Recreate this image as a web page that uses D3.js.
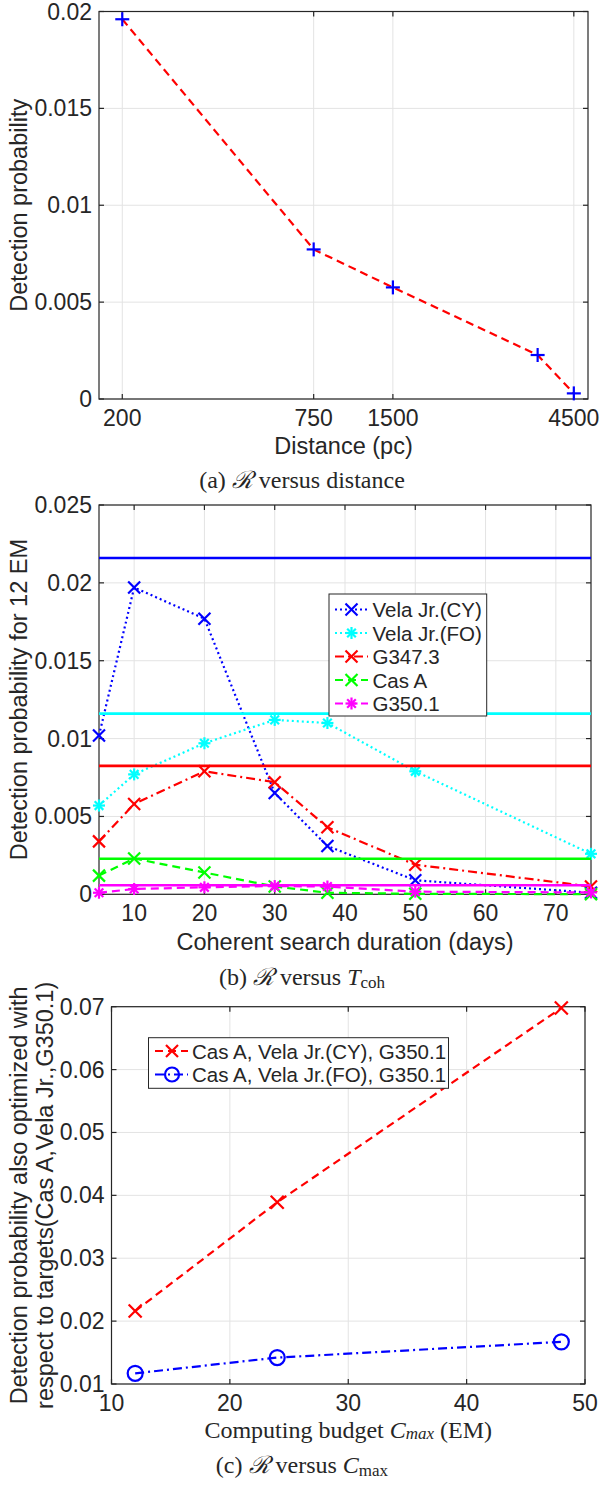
<!DOCTYPE html>
<html>
<head>
<meta charset="utf-8">
<script src="https://cdn.jsdelivr.net/npm/d3@7"></script>
<style>
  html, body { margin: 0; padding: 0; background: #fff; }
  svg { display: block; }
  .sans { font-family: "Liberation Sans", Arial, Helvetica, sans-serif; fill: #262626; }
  .serif { font-family: "Liberation Serif", "Times New Roman", serif; fill: #262626; }
</style>
</head>
<body>
<svg id="fig" width="600" height="1491"></svg>
<script>
// ---------------- DATA ----------------
// (a) R versus distance
const distanceTicks = [200, 750, 1500, 4500];
const distanceTickLabels = ["200", "750", "1500", "4500"];
const distance = [200, 750, 1500, 3900, 4500];
const probVsDistance = [0.0196, 0.00772, 0.00576, 0.00227, 0.00029];
const yTicksA = [0, 0.005, 0.01, 0.015, 0.02];
const yTickLabelsA = ["0", "0.005", "0.01", "0.015", "0.02"];

// (b) R versus T_coh
const tcoh = [5, 10, 20, 30, 37.5, 50, 75];
const velaCY = [0.0102, 0.0197, 0.0177, 0.0065, 0.0031, 0.0009, 0.0001];
const velaFO = [0.0057, 0.0077, 0.0097, 0.0112, 0.0110, 0.0079, 0.0026];
const g347 = [0.0034, 0.0058, 0.0079, 0.0072, 0.0043, 0.0019, 0.0005];
const casA = [0.0012, 0.0023, 0.0014, 0.0005, 0.0001, 0.00003, 0.00001];
const g350 = [0.0001, 0.00034, 0.00045, 0.00053, 0.0005, 0.00017, 0.00012];
const seriesNamesB = ["Vela Jr.(CY)", "Vela Jr.(FO)", "G347.3", "Cas A", "G350.1"];
const maxLevelsB = [0.0216, 0.0116, 0.00825, 0.00228, 0.00058];
const xTicksB = [10, 20, 30, 40, 50, 60, 70];
const xTickLabelsB = ["10", "20", "30", "40", "50", "60", "70"];
const yTicksB = [0, 0.005, 0.01, 0.015, 0.02, 0.025];
const yTickLabelsB = ["0", "0.005", "0.01", "0.015", "0.02", "0.025"];

// (c) R versus C_max
const cmax = [12, 24, 48];
const casVelaCY = [0.0216, 0.0389, 0.0698];
const casVelaFO = [0.0117, 0.0142, 0.0167];
const seriesNamesC = ["Cas A, Vela Jr.(CY), G350.1", "Cas A, Vela Jr.(FO), G350.1"];
const xTicksC = [10, 20, 30, 40, 50];
const xTickLabelsC = ["10", "20", "30", "40", "50"];
const yTicksC = [0.01, 0.02, 0.03, 0.04, 0.05, 0.06, 0.07];
const yTickLabelsC = ["0.01", "0.02", "0.03", "0.04", "0.05", "0.06", "0.07"];

// ---------------- HELPERS ----------------
const svg = d3.select("#fig");
svg.append("rect").attr("width", 600).attr("height", 1491).attr("fill", "#fff");

const AX = "#262626", GRID = "#e3e3e3";
const TICK_FS = 23, LABEL_FS = 23.5, LEG_FS = 20.5, CAP_FS = 24;

function drawAxes(g, x, y, box, xt, xtl, yt, ytl) {
  const [L, R, T, B] = box;
  g.append("g").selectAll("line").data(xt).join("line")
    .attr("x1", d => x(d)).attr("x2", d => x(d)).attr("y1", T).attr("y2", B)
    .attr("stroke", GRID).attr("stroke-width", 1);
  g.append("g").selectAll("line").data(yt).join("line")
    .attr("y1", d => y(d)).attr("y2", d => y(d)).attr("x1", L).attr("x2", R)
    .attr("stroke", GRID).attr("stroke-width", 1);
  g.append("rect").attr("x", L).attr("y", T).attr("width", R - L).attr("height", B - T)
    .attr("fill", "none").attr("stroke", AX).attr("stroke-width", 1.2);
  const tl = 5;
  xt.forEach(d => {
    g.append("line").attr("x1", x(d)).attr("x2", x(d)).attr("y1", B).attr("y2", B - tl).attr("stroke", AX).attr("stroke-width", 1.2);
    g.append("line").attr("x1", x(d)).attr("x2", x(d)).attr("y1", T).attr("y2", T + tl).attr("stroke", AX).attr("stroke-width", 1.2);
  });
  yt.forEach(d => {
    g.append("line").attr("y1", y(d)).attr("y2", y(d)).attr("x1", L).attr("x2", L + tl).attr("stroke", AX).attr("stroke-width", 1.2);
    g.append("line").attr("y1", y(d)).attr("y2", y(d)).attr("x1", R).attr("x2", R - tl).attr("stroke", AX).attr("stroke-width", 1.2);
  });
  g.append("g").selectAll("text").data(xt).join("text").attr("class", "sans")
    .attr("x", d => x(d)).attr("y", B + 19).attr("text-anchor", "middle")
    .attr("dominant-baseline", "central").attr("font-size", TICK_FS)
    .text((d, i) => xtl[i]);
  g.append("g").selectAll("text").data(yt).join("text").attr("class", "sans")
    .attr("x", L - 7).attr("y", d => y(d)).attr("text-anchor", "end")
    .attr("dominant-baseline", "central").attr("font-size", TICK_FS)
    .text((d, i) => ytl[i]);
}

function marker(g, type, cx, cy, color, s, sw) {
  const m = g.append("g").attr("transform", `translate(${cx},${cy})`)
    .attr("stroke", color).attr("stroke-width", sw || 2).attr("fill", "none");
  if (type === "plus" || type === "star") {
    m.append("line").attr("x1", -s).attr("x2", s).attr("y1", 0).attr("y2", 0);
    m.append("line").attr("x1", 0).attr("x2", 0).attr("y1", -s).attr("y2", s);
  }
  if (type === "x" || type === "star") {
    const k = type === "star" ? s * 0.72 : s;
    m.append("line").attr("x1", -k).attr("x2", k).attr("y1", -k).attr("y2", k);
    m.append("line").attr("x1", -k).attr("x2", k).attr("y1", k).attr("y2", -k);
  }
  if (type === "circle") {
    m.append("circle").attr("r", s);
  }
}

function yLabel(lines, cx, cy, spacing) {
  lines.forEach((t, i) => {
    svg.append("text").attr("class", "sans").attr("font-size", LABEL_FS)
      .attr("text-anchor", "middle").attr("dominant-baseline", "central")
      .attr("transform", `translate(${cx + i * spacing},${cy}) rotate(-90)`)
      .text(t);
  });
}

function caption(yPos, parts) {
  const cap = svg.append("text").attr("class", "serif").attr("font-size", CAP_FS)
    .attr("x", 302).attr("y", yPos).attr("text-anchor", "middle").attr("dominant-baseline", "central");
  parts.forEach(p => {
    const t = cap.append("tspan").text(p.t);
    if (p.it) t.attr("font-style", "italic");
    if (p.sub) t.attr("font-size", 17).attr("dy", 5);
  });
}

// ---------------- PANEL (a) ----------------
{
  const box = [99, 588, 11.5, 399];
  const [L, R, T, B] = box, W = R - L;
  const x = d3.scaleLinear().domain(distanceTicks)
    .range([L + 0.0476 * W, L + 0.439 * W, L + 0.601 * W, L + 0.971 * W]);
  const y = d3.scaleLinear().domain([0, 0.02]).range([B, T]);
  const g = svg.append("g");
  drawAxes(g, x, y, box, distanceTicks, distanceTickLabels, yTicksA, yTickLabelsA);
  const pts = distance.map((d, i) => [d, probVsDistance[i]]);
  g.append("path").datum(pts)
    .attr("d", d3.line().x(d => x(d[0])).y(d => y(d[1])))
    .attr("fill", "none").attr("stroke", "#ff0000").attr("stroke-width", 2.2)
    .attr("stroke-dasharray", "8,5");
  pts.forEach(p => marker(g, "plus", x(p[0]), y(p[1]), "#0000ff", 7, 2.2));
  svg.append("text").attr("class", "sans").attr("font-size", LABEL_FS)
    .attr("x", (L + R) / 2).attr("y", 446).attr("text-anchor", "middle")
    .attr("dominant-baseline", "central").text("Distance (pc)");
  yLabel(["Detection probability"], 19, (T + B) / 2, 0);
  caption(480, [{ t: "(a) " }, { t: "ℛ", it: true }, { t: " versus distance" }]);
}

// ---------------- PANEL (b) ----------------
{
  const box = [99, 591, 505, 894.3];
  const [L, R, T, B] = box;
  const x = d3.scaleLinear().domain([5, 75]).range([L, R]);
  const y = d3.scaleLinear().domain([0, 0.025]).range([B, T]);
  const g = svg.append("g");
  drawAxes(g, x, y, box, xTicksB, xTickLabelsB, yTicksB, yTickLabelsB);
  const series = [
    { name: seriesNamesB[0], vals: velaCY, color: "#0000ff", dash: "2,3", mk: "x" },
    { name: seriesNamesB[1], vals: velaFO, color: "#00ffff", dash: "2,3", mk: "star" },
    { name: seriesNamesB[2], vals: g347, color: "#ff0000", dash: "9,4,2,4", mk: "x" },
    { name: seriesNamesB[3], vals: casA, color: "#00ff00", dash: "8,5", mk: "x" },
    { name: seriesNamesB[4], vals: g350, color: "#ff00ff", dash: "8,5", mk: "star" },
  ];
  const line = d3.line().x(d => x(d[0])).y(d => y(d[1]));
  series.forEach(s => {
    const pts = tcoh.map((t, i) => [t, s.vals[i]]);
    g.append("path").datum(pts).attr("d", line).attr("fill", "none")
      .attr("stroke", s.color).attr("stroke-width", 2.2).attr("stroke-dasharray", s.dash);
    pts.forEach(p => marker(g, s.mk, x(p[0]), y(p[1]), s.color, 6, 2.2));
  });
  series.forEach((s, i) => {
    g.append("line").attr("x1", L).attr("x2", R).attr("y1", y(maxLevelsB[i])).attr("y2", y(maxLevelsB[i]))
      .attr("stroke", s.color).attr("stroke-width", 2.6);
  });
  const lg = svg.append("g");
  lg.append("rect").attr("x", 329).attr("y", 594).attr("width", 157.7).attr("height", 122)
    .attr("fill", "#fff").attr("stroke", AX).attr("stroke-width", 1);
  series.forEach((s, i) => {
    const yy = 609.5 + i * 23.5;
    lg.append("line").attr("x1", 335).attr("x2", 368).attr("y1", yy).attr("y2", yy)
      .attr("stroke", s.color).attr("stroke-width", 2.2).attr("stroke-dasharray", s.dash);
    marker(lg, s.mk, 351.5, yy, s.color, 6, 2.2);
    lg.append("text").attr("class", "sans").attr("font-size", LEG_FS)
      .attr("x", 372.5).attr("y", yy).attr("dominant-baseline", "central")
      .attr("fill", "#000").text(s.name);
  });
  svg.append("text").attr("class", "sans").attr("font-size", LABEL_FS)
    .attr("x", (L + R) / 2).attr("y", 941.7).attr("text-anchor", "middle")
    .attr("dominant-baseline", "central").text("Coherent search duration (days)");
  yLabel(["Detection probability for 12 EM"], 19, (T + B) / 2, 0);
  caption(976.5, [{ t: "(b) " }, { t: "ℛ", it: true }, { t: " versus " }, { t: "T", it: true }, { t: "coh", sub: true }]);
}

// ---------------- PANEL (c) ----------------
{
  const box = [111.5, 585, 1006.7, 1384];
  const [L, R, T, B] = box;
  const x = d3.scaleLinear().domain([10, 50]).range([L, R]);
  const y = d3.scaleLinear().domain([0.01, 0.07]).range([B, T]);
  const g = svg.append("g");
  drawAxes(g, x, y, box, xTicksC, xTickLabelsC, yTicksC, yTickLabelsC);
  const series = [
    { name: seriesNamesC[0], vals: casVelaCY, color: "#ff0000", dash: "8,5", mk: "x", ms: 6.5 },
    { name: seriesNamesC[1], vals: casVelaFO, color: "#0000ff", dash: "9,4,2,4", mk: "circle", ms: 7.5 },
  ];
  const line = d3.line().x(d => x(d[0])).y(d => y(d[1]));
  series.forEach(s => {
    const pts = cmax.map((c, i) => [c, s.vals[i]]);
    g.append("path").datum(pts).attr("d", line).attr("fill", "none")
      .attr("stroke", s.color).attr("stroke-width", 2.2).attr("stroke-dasharray", s.dash);
    pts.forEach(p => marker(g, s.mk, x(p[0]), y(p[1]), s.color, s.ms, 2.2));
  });
  const lg = svg.append("g");
  lg.append("rect").attr("x", 148.5).attr("y", 1037.7).attr("width", 300).attr("height", 50.6)
    .attr("fill", "#fff").attr("stroke", AX).attr("stroke-width", 1);
  series.forEach((s, i) => {
    const yy = 1051 + i * 23.5;
    lg.append("line").attr("x1", 155).attr("x2", 188).attr("y1", yy).attr("y2", yy)
      .attr("stroke", s.color).attr("stroke-width", 2.2).attr("stroke-dasharray", s.dash);
    marker(lg, s.mk, 172, yy, s.color, s.mk === "circle" ? 7 : 6, 2.2);
    lg.append("text").attr("class", "sans").attr("font-size", LEG_FS)
      .attr("x", 192).attr("y", yy).attr("dominant-baseline", "central")
      .attr("fill", "#000").text(s.name);
  });
  const xl = svg.append("text").attr("class", "serif").attr("font-size", CAP_FS)
    .attr("x", (L + R) / 2).attr("y", 1430).attr("text-anchor", "middle")
    .attr("dominant-baseline", "central");
  xl.append("tspan").text("Computing budget ");
  xl.append("tspan").attr("font-style", "italic").text("C");
  xl.append("tspan").attr("font-style", "italic").attr("font-size", 17).attr("dy", 3).text("max");
  xl.append("tspan").attr("dy", -3).text(" (EM)");
  yLabel(["Detection probability also optimized with", "respect to targets(Cas A,Vela Jr.,G350.1)"], 19, (T + B) / 2, 26);
  caption(1465, [{ t: "(c) " }, { t: "ℛ", it: true }, { t: " versus " }, { t: "C", it: true }, { t: "max", sub: true }]);
}
</script>
</body>
</html>
